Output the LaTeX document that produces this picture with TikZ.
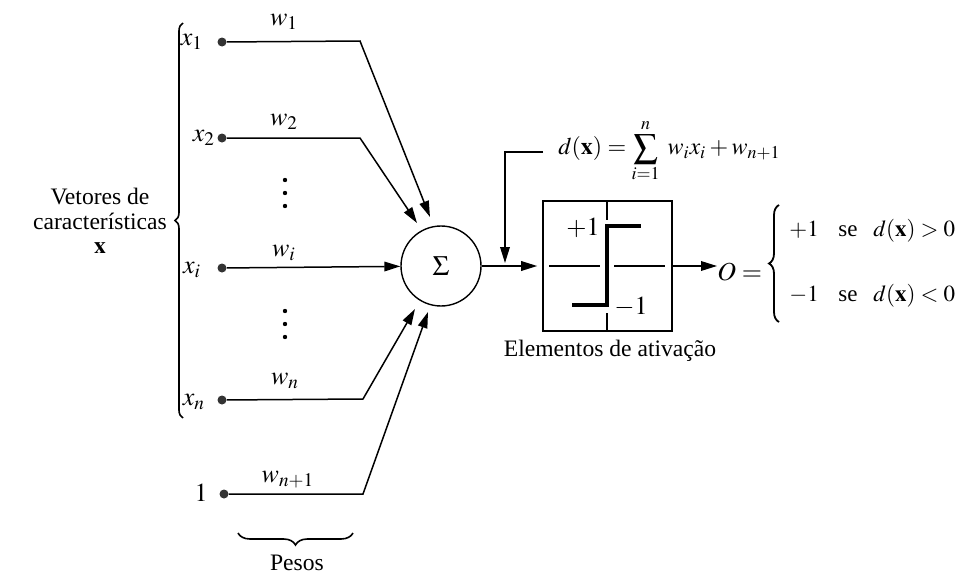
\documentclass[tikz,border=0pt]{standalone}
\usepackage{mathptmx}
\usepackage{fontspec}
\setmainfont{Liberation Serif}
\usetikzlibrary{arrows.meta,decorations.pathreplacing}
\tikzset{
  conn/.style={line width=0.75pt},
  arr/.style={conn,-{Triangle[length=8pt,width=4.8pt]}},
  inp/.style={circle,fill=black!80,inner sep=0pt,minimum size=4.5pt},
  txt/.style={font=\fontsize{11.8}{12.3}\selectfont,inner sep=0pt},
  mlab/.style={font=\fontsize{13}{14}\selectfont,inner sep=0pt},
  caselab/.style={font=\fontsize{11.5}{12.5}\selectfont,inner sep=0pt,anchor=base west},
  bracestyle/.style={line width=0.8pt,decorate,decoration={brace,amplitude=#1}},
}
\begin{document}
\begin{tikzpicture}[x=0.5pt,y=-0.5pt]
\useasboundingbox (0,0) rectangle (966,573);
% summation node
\node[draw,circle,line width=0.7pt,minimum size=40pt,inner sep=0pt,font=\fontsize{14}{14}\selectfont] (s) at (441,266) {$\Sigma$};
% input dots
\node[inp] (d1) at (222,42) {};
\node[inp] (d2) at (222,138) {};
\node[inp] (di) at (222,268) {};
\node[inp] (dn) at (222,400) {};
\node[inp] (d0) at (224,494) {};
% input labels
\node[mlab] (lx1) at (192,42) {$x_1$};
\node[mlab] (lx2) at (204,138) {$x_2$};
\node[mlab] (lxi) at (192,270) {$x_i$};
\node[mlab] (lxn) at (194,402) {$x_n$};
\node[mlab] (l1) at (201,493) {$1$};
% weight labels
\node[mlab] (w1) at (284,22) {$w_1$};
\node[mlab] (w2) at (284,122) {$w_2$};
\node[mlab] (wi) at (284,253) {$w_i$};
\node[mlab] (wn) at (285,381) {$w_n$};
\node[mlab] (w0) at (288,480) {$w_{n+1}$};
% corners and tips
\coordinate (k1) at (360,41);
\coordinate (k2) at (360,138);
\coordinate (kn) at (363,399);
\coordinate (k0) at (363,494);
\coordinate (t1) at (430,217);
\coordinate (t2) at (417,223);
\coordinate (tn) at (415,309);
\coordinate (t0) at (428,312);
\draw[arr] (d1) -- (k1) -- (t1);
\draw[arr] (d2) -- (k2) -- (t2);
\draw[arr] (di) -- (s);
\draw[arr] (dn) -- (kn) -- (tn);
\draw[arr] (d0) -- (k0) -- (t0);
% vertical dots
\foreach \y in {180,193,206,311,324,337} \fill (285,\y) circle (2.2);
% left brace
\coordinate (bb) at (183,418);
\coordinate (bt) at (183,23);
\draw[bracestyle=4pt] (bb) -- (bt);
\node[txt,align=center] (vet) at (100,221) {Vetores de\\caracter\'isticas\\$\mathbf{x}$};
% pesos brace
\coordinate (pr) at (353,533);
\coordinate (pl) at (238,533);
\draw[bracestyle=6pt] (pr) -- (pl);
\node[txt] (pesos) at (297,563) {Pesos};
% activation box
\node[draw,line width=0.8pt,minimum width=64.5pt,minimum height=65pt,inner sep=0pt] (act) at (607.5,266) {};
\draw[conn] (549,266) -- (600,266);
\draw[conn] (614,266) -- (665,266);
\draw[conn] (607,201) -- (607,220);
\draw[conn] (607,313) -- (607,331);
\draw[line width=1.7pt] (572,305) -- (607,305) -- (607,226) -- (641,226);
\node[mlab] (p1) at (583,228) {$+1$};
\node[mlab] (m1) at (631,307) {$-1$};
\node[txt] (elem) at (610,351) {Elementos de ativa\c{c}\~ao};
% sum to box
\draw[arr,shorten >=2.5pt] (s) -- (act);
% formula and feedback arrow
\node[font=\fontsize{12}{13}\selectfont,inner sep=0pt,anchor=base west] (form) at (558,155) {$\displaystyle d(\mathbf{x}) = \sum_{i=1}^{n}\; w_i x_i + w_{n+1}$};
\coordinate (fs) at (543,152);
\coordinate (fc) at (505,152);
\coordinate (ft) at (505,263);
\draw[arr] (fs) -- (fc) -- (ft);
% output
\node[mlab,anchor=west] (o) at (717,272) {$O =$};
\draw[arr] (act.east) -- (act.east -| o.west);
\coordinate (cb) at (779,322);
\coordinate (ct) at (779,205);
\draw[bracestyle=5pt,line width=0.9pt] (cb) -- (ct);
\node[caselab] (c1v) at (789,236) {$+1$};
\node[caselab] (c1s) at (838,236) {se};
\node[caselab] (c1c) at (873,236) {$d(\mathbf{x}) > 0$};
\node[caselab] (c2v) at (789,301) {$-1$};
\node[caselab] (c2s) at (838,301) {se};
\node[caselab] (c2c) at (873,301) {$d(\mathbf{x}) < 0$};
\end{tikzpicture}
\end{document}
